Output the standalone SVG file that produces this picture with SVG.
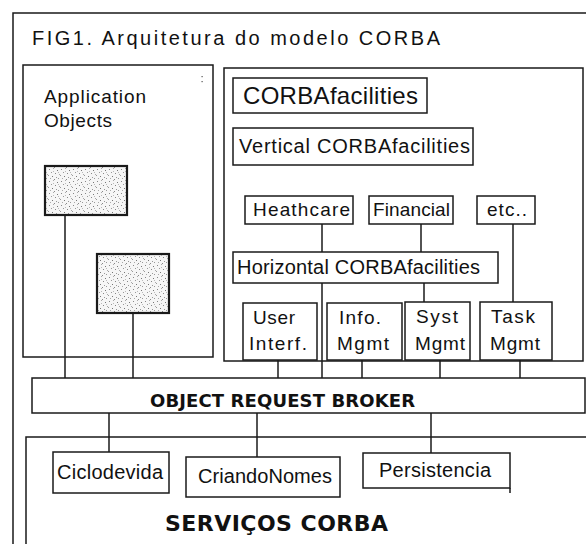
<svg xmlns="http://www.w3.org/2000/svg" width="586" height="544" viewBox="0 0 586 544">
  <defs>
    <style>
      .box { fill: #fff; stroke: #1a1a1a; stroke-width: 1.5; }
      .frame { fill: none; stroke: #1a1a1a; stroke-width: 1.5; }
      .obj { fill: url(#stipple); stroke: #1a1a1a; stroke-width: 2.2; }
      .wire { stroke: #1a1a1a; stroke-width: 1.5; fill: none; }
      .t { font-family: "Liberation Sans", Arial, sans-serif; fill: #111; }
      .tb { font-family: "DejaVu Sans", Verdana, sans-serif; font-weight: bold; fill: #111; }
    </style>
    <!-- grainy grey dot texture for the application objects -->
    <pattern id="stipple" width="12" height="12" patternUnits="userSpaceOnUse">
      <rect width="12" height="12" fill="#f6f6f6"/>
      <rect x="1" y="1" width="1" height="1" fill="#888"/>
      <rect x="5" y="0" width="1" height="1" fill="#aaa"/>
      <rect x="9" y="2" width="1" height="1" fill="#777"/>
      <rect x="3" y="4" width="1" height="1" fill="#999"/>
      <rect x="7" y="5" width="1" height="1" fill="#888"/>
      <rect x="11" y="6" width="1" height="1" fill="#aaa"/>
      <rect x="0" y="7" width="1" height="1" fill="#999"/>
      <rect x="4" y="8" width="1" height="1" fill="#777"/>
      <rect x="8" y="9" width="1" height="1" fill="#999"/>
      <rect x="2" y="10" width="1" height="1" fill="#aaa"/>
      <rect x="6" y="11" width="1" height="1" fill="#888"/>
      <rect x="10" y="10" width="1" height="1" fill="#999"/>
      <rect x="5" y="3" width="1" height="1" fill="#bbb"/>
      <rect x="10" y="4" width="1" height="1" fill="#bbb"/>
    </pattern>
  </defs>

  <rect width="586" height="544" fill="#fff"/>

  <!-- outer figure frame (open on the right and bottom) -->
  <path class="frame" d="M13,544 V13 H586"/>
  <text class="t" x="32" y="45" font-size="20" textLength="408">FIG1. Arquitetura do modelo CORBA</text>

  <!-- connectors -->
  <g id="connectors" class="wire">
    <line x1="65" y1="215" x2="65" y2="378"/>
    <line x1="133" y1="313" x2="133" y2="378"/>
    <line x1="322" y1="224" x2="322" y2="252"/>
    <line x1="421" y1="224" x2="421" y2="252"/>
    <line x1="513" y1="224" x2="513" y2="302"/>
    <line x1="322" y1="283" x2="322" y2="378"/>
    <line x1="424" y1="283" x2="424" y2="302"/>
    <line x1="278" y1="360" x2="278" y2="378"/>
    <line x1="362" y1="360" x2="362" y2="378"/>
    <line x1="440" y1="360" x2="440" y2="378"/>
    <line x1="520" y1="360" x2="520" y2="378"/>
    <line x1="109" y1="413" x2="109" y2="452"/>
    <line x1="257" y1="413" x2="257" y2="457"/>
    <line x1="431" y1="413" x2="431" y2="453"/>
  </g>

  <!-- application objects container -->
  <g id="app-objects">
    <rect class="frame" x="23" y="65" width="190" height="292"/>
    <text class="t" x="44" y="103" font-size="19" textLength="102">Application</text>
    <text class="t" x="44" y="127" font-size="19" textLength="68">Objects</text>
    <rect x="201.5" y="76" width="1.2" height="1.2" fill="#555"/>
    <rect x="201.5" y="81" width="1.2" height="1.2" fill="#555"/>
  </g>
  <g id="object-1"><rect class="obj" x="45" y="166" width="82" height="49"/></g>
  <g id="object-2"><rect class="obj" x="97" y="254" width="72" height="59"/></g>

  <!-- CORBAfacilities container -->
  <g id="corba-facilities">
    <rect class="frame" x="224" y="68" width="359" height="293"/>
    <rect class="box" x="233" y="78" width="194" height="35"/>
    <text class="t" x="243" y="104" font-size="24" textLength="175">CORBAfacilities</text>
  </g>
  <g id="vertical">
    <rect class="box" x="233" y="128" width="240" height="37"/>
    <text class="t" x="239" y="153" font-size="20" textLength="231">Vertical CORBAfacilities</text>
  </g>
  <g id="healthcare">
    <rect class="box" x="245" y="196" width="108" height="28"/>
    <text class="t" x="253" y="216" font-size="19" textLength="97">Heathcare</text>
  </g>
  <g id="financial">
    <rect class="box" x="369" y="196" width="84" height="28"/>
    <text class="t" x="373" y="216" font-size="19" textLength="77">Financial</text>
  </g>
  <g id="etc">
    <rect class="box" x="477" y="196" width="58" height="28"/>
    <text class="t" x="487" y="216" font-size="19" textLength="40">etc..</text>
  </g>
  <g id="horizontal">
    <rect class="box" x="233" y="252" width="265" height="31"/>
    <text class="t" x="237" y="274" font-size="20" textLength="243">Horizontal CORBAfacilities</text>
  </g>
  <g id="user-interf">
    <rect class="box" x="243" y="303" width="74" height="57"/>
    <text class="t" x="253" y="324" font-size="19" textLength="42">User</text>
    <text class="t" x="249" y="350" font-size="19" textLength="58">Interf.</text>
  </g>
  <g id="info-mgmt">
    <rect class="box" x="327" y="303" width="75" height="57"/>
    <text class="t" x="339" y="324" font-size="19" textLength="42">Info.</text>
    <text class="t" x="337" y="350" font-size="19" textLength="52">Mgmt</text>
  </g>
  <g id="syst-mgmt">
    <rect class="box" x="405" y="302" width="65" height="58"/>
    <text class="t" x="416" y="323" font-size="19" textLength="42">Syst</text>
    <text class="t" x="415" y="350" font-size="19" textLength="50">Mgmt</text>
  </g>
  <g id="task-mgmt">
    <rect class="box" x="480" y="302" width="72" height="58"/>
    <text class="t" x="491" y="323" font-size="19" textLength="44">Task</text>
    <text class="t" x="490" y="350" font-size="19" textLength="50">Mgmt</text>
  </g>

  <!-- broker bus -->
  <g id="orb">
    <rect class="box" x="32" y="378" width="553" height="35"/>
    <text class="tb" x="150" y="407" font-size="18" textLength="265">OBJECT REQUEST BROKER</text>
  </g>

  <!-- CORBA services container -->
  <g id="corba-services">
    <path class="frame" d="M26,544 V437 H586"/>
    <text class="tb" x="165" y="531" font-size="22" textLength="223">SERVIÇOS CORBA</text>
  </g>
  <g id="ciclodevida">
    <rect class="box" x="53" y="452" width="116" height="41"/>
    <text class="t" x="57" y="479" font-size="20" textLength="106">Ciclodevida</text>
  </g>
  <g id="criandonomes">
    <rect class="box" x="186" y="457" width="154" height="40"/>
    <text class="t" x="198" y="483" font-size="20" textLength="134">CriandoNomes</text>
  </g>
  <g id="persistencia">
    <rect class="box" x="363" y="453" width="147" height="35"/>
    <line class="wire" x1="510" y1="488" x2="510" y2="493"/>
    <text class="t" x="379" y="477" font-size="20" textLength="112">Persistencia</text>
  </g>
</svg>
